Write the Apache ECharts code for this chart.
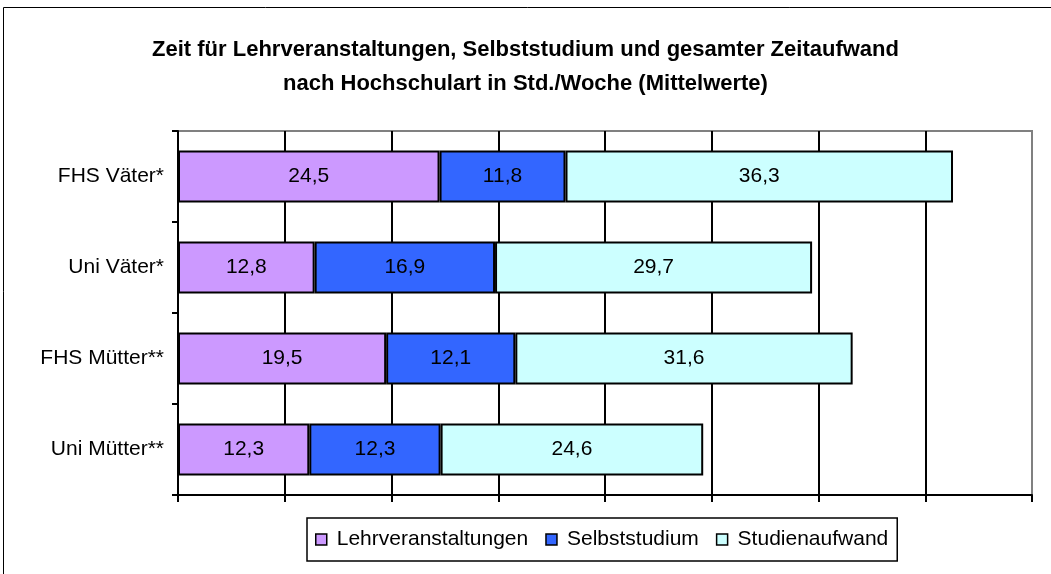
<!DOCTYPE html>
<html>
<head>
<meta charset="utf-8">
<script src="https://cdn.jsdelivr.net/npm/echarts@6/dist/echarts.min.js"></script>
<style>
  html, body { margin: 0; padding: 0; background: #fff; }
  #chart { width: 1051px; height: 574px; }
</style>
</head>
<body>
<div id="chart"></div>
<script>
// Daten (Std./Woche, Mittelwerte)
var categories = ['FHS Väter*', 'Uni Väter*', 'FHS Mütter**', 'Uni Mütter**']
var lehrveranstaltungen = [24.5, 12.8, 19.5, 12.3]
var selbststudium = [11.8, 16.9, 12.1, 12.3]
var studienaufwand = [36.3, 29.7, 31.6, 24.6]
var seriesNames = ['Lehrveranstaltungen', 'Selbststudium', 'Studienaufwand']

var font = 'Liberation Sans, Arial, sans-serif'

function komma(p) {
  return p.value.toFixed(1).replace('.', ',')
}

function barSeries(name, data, color) {
  return {
    name: name,
    type: 'bar',
    stack: 'gesamt',
    data: data,
    barWidth: 52,
    itemStyle: { color: color, borderColor: '#000', borderWidth: 2 },
    label: {
      show: true,
      position: 'inside',
      color: '#000',
      fontFamily: font,
      fontSize: 21,
      formatter: komma
    }
  }
}

var myChart = echarts.init(document.getElementById('chart'))
myChart.setOption({
  animation: false,
  textStyle: { fontFamily: font },
  title: {
    text: 'Zeit für Lehrveranstaltungen, Selbststudium und gesamter Zeitaufwand\nnach Hochschulart in Std./Woche (Mittelwerte)',
    left: 'center',
    top: 28,
    textStyle: { fontSize: 22, fontWeight: 'bold', color: '#000', lineHeight: 34, fontFamily: font }
  },
  // äußerer Rahmen
  graphic: [{
    type: 'rect',
    shape: { x: 3.5, y: 7.5, width: 1100, height: 600 },
    style: { fill: 'none', stroke: '#000', lineWidth: 1 },
    silent: true
  }],
  legend: {
    data: seriesNames,
    left: 307,
    top: 518,
    itemWidth: 11,
    itemHeight: 11,
    itemGap: 17,
    padding: [11, 9, 11, 8],
    borderColor: '#000',
    borderWidth: 1.5,
    icon: 'rect',
    itemStyle: { borderColor: '#000', borderWidth: 1.5 },
    textStyle: { fontSize: 21, color: '#000', fontFamily: font, padding: [0, 0, 0, 5] }
  },
  grid: {
    left: 178,
    right: 19,
    top: 131,
    bottom: 79,
    show: true,
    borderColor: '#808080',
    borderWidth: 2
  },
  xAxis: {
    type: 'value',
    min: 0,
    max: 80,
    interval: 10,
    axisLabel: { show: false },
    axisLine: { show: true, lineStyle: { color: '#000', width: 2 } },
    axisTick: { show: true, length: 7, lineStyle: { color: '#000', width: 2 } },
    splitLine: { show: true, showMinLine: false, showMaxLine: false, lineStyle: { color: '#000', width: 2 } }
  },
  yAxis: {
    type: 'category',
    inverse: true,
    data: categories,
    axisLine: { show: true, lineStyle: { color: '#000', width: 2 } },
    axisTick: { show: true, length: 6, lineStyle: { color: '#000', width: 2 } },
    axisLabel: { color: '#000', fontSize: 21, margin: 14, fontFamily: font }
  },
  series: [
    barSeries(seriesNames[0], lehrveranstaltungen, '#CC99FF'),
    barSeries(seriesNames[1], selbststudium, '#3366FF'),
    barSeries(seriesNames[2], studienaufwand, '#CCFFFF')
  ]
})
</script>
</body>
</html>
